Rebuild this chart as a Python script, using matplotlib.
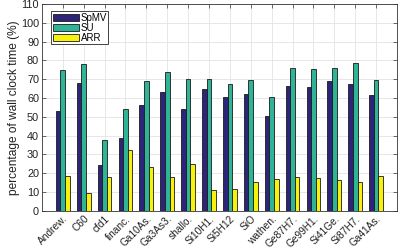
import matplotlib
matplotlib.use("Agg")
import matplotlib.pyplot as plt
import numpy as np

plt.rcParams['font.family'] = ['Liberation Sans', 'DejaVu Sans']

categories = ["Andrew.", "C60", "cfd1", "financ.", "Ga10As.", "Ga3As3.", "shallo.",
              "Si10H1.", "Si5H12", "SiO", "wathen.", "Ge87H7.", "Ge99H1.", "Si41Ge.",
              "Si87H7.", "Ga41As."]
spmv = [53.1, 68.2, 24.5, 38.5, 56.3, 63.4, 54.2, 64.6, 60.6, 62.0, 50.5, 66.6, 65.7, 69.1, 67.6, 61.6]
su = [75.1, 78.1, 37.5, 54.4, 69.2, 73.7, 70.0, 70.0, 67.3, 69.6, 60.7, 75.8, 75.3, 75.8, 78.8, 69.6]
arr = [18.6, 9.7, 18.2, 32.4, 23.4, 18.2, 24.8, 11.0, 11.7, 15.4, 16.8, 17.9, 17.5, 16.3, 15.6, 18.4]
series_names = ["SpMV", "SU", "ARR"]
colors = ["#2e2479", "#30b497", "#f7f20c"]

fig = plt.figure(figsize=(3.99, 2.49), dpi=100)
ax = fig.add_axes([0.105, 0.153, 0.89, 0.831])

x = np.arange(1, len(categories) + 1)
w = 0.22
for i, (vals, name, c) in enumerate(zip([spmv, su, arr], series_names, colors)):
    ax.bar(x + (i - 1) * w, vals, width=w, color=c, edgecolor="#1a1a1a",
           linewidth=0.6, label=name, zorder=3)

ax.set_xlim(0, 17)
ax.set_ylim(0, 110)
ax.set_yticks(np.arange(0, 111, 10))
ax.set_xticks(x)
ax.set_xticklabels(categories, rotation=45, ha="right", rotation_mode="anchor", fontsize=7.3)
ax.tick_params(axis="y", labelsize=7.8)
ax.tick_params(direction="in", top=True, right=True, length=3, width=0.5, colors="#333333",
               labelcolor="#222222", pad=2)
ax.grid(True, color="#e3e3e3", linewidth=0.6, zorder=0)
ax.set_axisbelow(True)
for s in ax.spines.values():
    s.set_linewidth(0.6)
    s.set_color("#333333")
ax.set_ylabel("percentage of wall clock time (%)", fontsize=8.6, color="#222222", labelpad=1)

leg = ax.legend(loc="upper left", bbox_to_anchor=(0.027, 0.965), fontsize=7, frameon=True,
                fancybox=False, edgecolor="#222222", framealpha=1, handlelength=2.7,
                handleheight=0.65, labelspacing=0.0, borderpad=0.15, handletextpad=0.15,
                borderaxespad=0)
leg.get_frame().set_linewidth(0.6)

fig.savefig("out.png", dpi=100)
